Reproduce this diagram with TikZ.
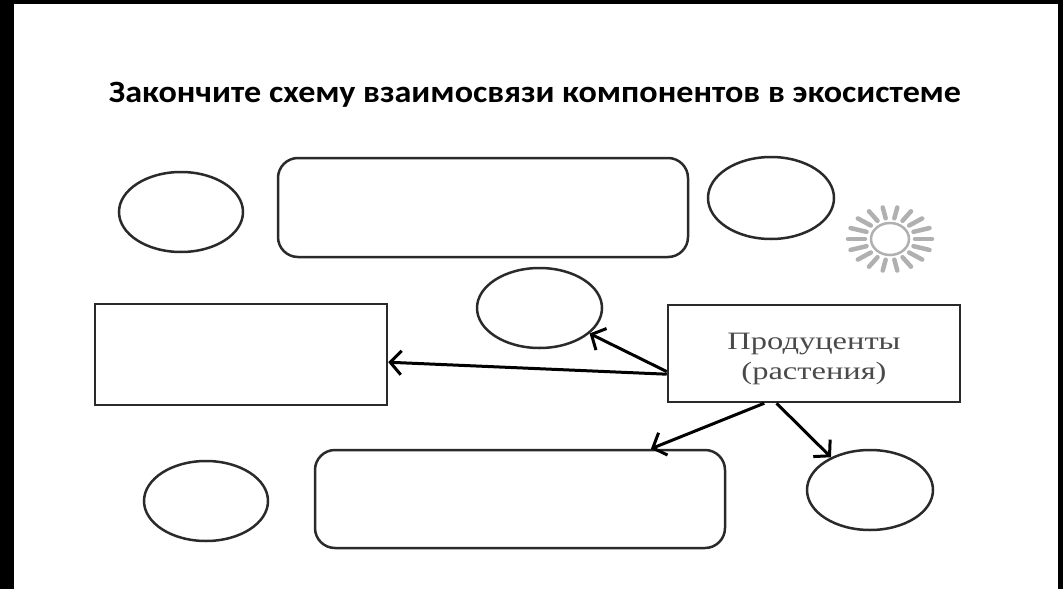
\documentclass[tikz,border=0pt]{standalone}
\usepackage{fontspec}
\newfontfamily\titlefont[FakeStretch=1.1]{Carlito}
\newfontfamily\prodfont[FakeStretch=1.3]{Liberation Serif}
\usetikzlibrary{shapes.geometric,arrows.meta}
\definecolor{outline}{HTML}{2A2A2A}
\definecolor{suncol}{HTML}{B0B0B0}
\definecolor{prodtext}{HTML}{4A4A4A}
\tikzset{
  oval/.style={ellipse,draw=outline,line width=2.5pt,inner sep=0pt},
  roundbox/.style={rectangle,rounded corners=20pt,draw=outline,line width=2.5pt,inner sep=0pt},
  plainbox/.style={rectangle,draw=outline,line width=2.5pt,inner sep=0pt},
  arr/.style={line width=3pt,-{Straight Barb[length=11pt,width=24pt]}}
}
\begin{document}
\begin{tikzpicture}[x=1pt,y=-1pt]
  \useasboundingbox (0,0) rectangle (1063,589);
  \fill[black] (0,0) rectangle (14,589);
  \fill[black] (0,0) rectangle (1063,4);
  \fill[black] (1058,0) rectangle (1063,589);
  \node[anchor=base] (title) at (535,102) {\titlefont\bfseries\fontsize{31}{37}\selectfont Закончите схему взаимосвязи компонентов в экосистеме};
  % top row
  \node[oval,minimum width=124pt,minimum height=80pt] (eA) at (181,212) {};
  \node[roundbox,minimum width=410pt,minimum height=99pt] (boxTop) at (483,207.5) {};
  \node[oval,minimum width=126pt,minimum height=82pt] (eB) at (771,198) {};
  \node[ellipse,draw=suncol,line width=2.5pt,minimum width=38pt,minimum height=32pt,inner sep=0pt] (sun) at (890,239) {};
  \foreach \a in {0,20,...,340}
    \draw[suncol,line width=4.5pt,line cap=round] (sun) ++(\a:25 and 21) -- ++(\a:17 and 11);
  % middle row
  \node[oval,minimum width=125pt,minimum height=80pt] (eC) at (539.5,308) {};
  \node[plainbox,minimum width=292pt,minimum height=101pt] (boxLeft) at (241,354.5) {};
  \node[plainbox,minimum width=292pt,minimum height=97pt] (prod) at (814,353.5) {};
  \node[align=center,text=prodtext,font=\prodfont\fontsize{25}{30}\selectfont]
    (prodlabel) at ([yshift=-5pt]prod.center) {Продуценты\\(растения)};
  % bottom row
  \node[oval,minimum width=124pt,minimum height=80pt] (eD) at (206,501) {};
  \node[roundbox,minimum width=410pt,minimum height=98pt] (boxBot) at (520,499) {};
  \node[oval,minimum width=126pt,minimum height=80pt] (eE) at (870,490) {};
  % arrows
  \draw[arr] (prod.188) -- (boxLeft.357);
  \draw[arr] (prod.187) -- (eC.333);
  \draw[arr] (prod.225) -- (boxBot.21);
  \draw[arr] (prod.233) -- (eE.140);
\end{tikzpicture}
\end{document}
